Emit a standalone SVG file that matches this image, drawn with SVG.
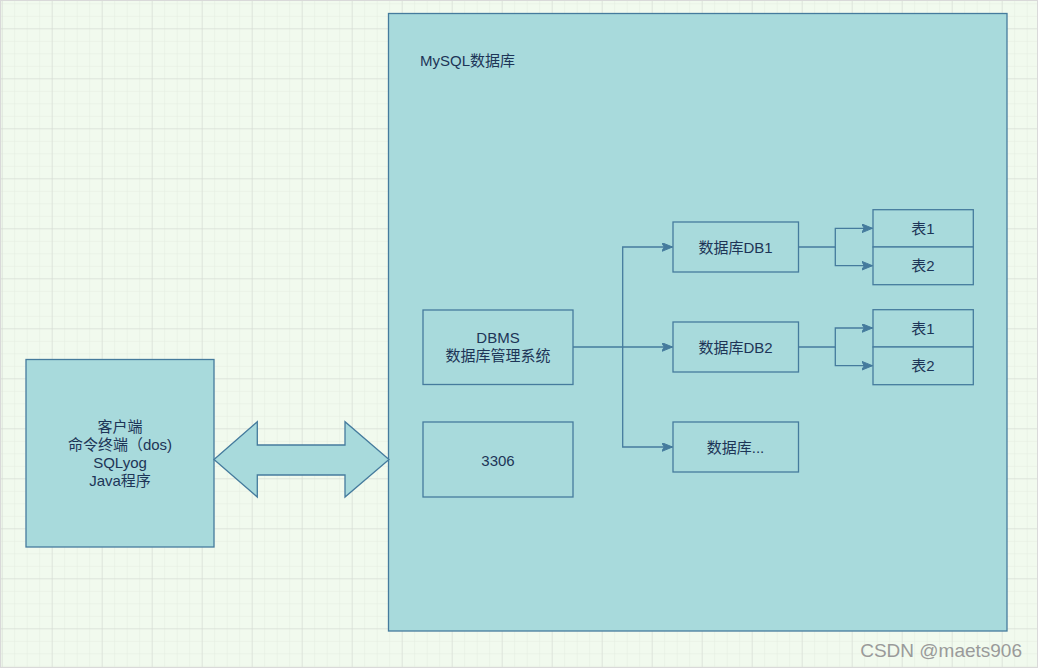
<svg xmlns="http://www.w3.org/2000/svg" width="1038" height="668" viewBox="0 0 1038 668">
<style>
.box{fill:#A8DADC;stroke:#457B9D;stroke-width:1.3}
.t{font-family:"Liberation Sans","Noto Sans CJK SC",sans-serif;font-size:15px;fill:#1D3557;text-anchor:middle}
.c{fill:none;stroke:#457B9D;stroke-width:1.3}
</style>
<defs>
<pattern id="minor" patternUnits="userSpaceOnUse" x="1.7" y="3.3" width="12.5" height="12.5">
<path d="M0,0 H12.5 M0,0 V12.5" fill="none" stroke="#e3ebe0" stroke-width="1"/>
</pattern>
<pattern id="major" patternUnits="userSpaceOnUse" x="1.7" y="28.3" width="50" height="50">
<path d="M0,0 H50 M0,0 V50" fill="none" stroke="#d3d8d1" stroke-width="1"/>
</pattern>
<marker id="arr" markerUnits="userSpaceOnUse" markerWidth="12" markerHeight="10" refX="11" refY="4.5" orient="auto" viewBox="0 0 12 10">
<path d="M0,0 L11,4.5 L0,9 L2.8,4.5 Z" fill="#457B9D" stroke="#457B9D" stroke-width="1"/>
</marker>
</defs>
<rect width="1038" height="668" fill="#F1FAEE"/>
<rect width="1038" height="668" fill="url(#minor)"/>
<rect width="1038" height="668" fill="url(#major)"/>
<rect x="0.5" y="0.5" width="1037" height="667" fill="none" stroke="#d9d9d9" stroke-width="1"/>

<g id="mysql">
<rect class="box" x="388.5" y="13.5" width="618.5" height="617.5"/>
<text class="t" x="420" y="65.5" style="text-anchor:start">MySQL数据库</text>
</g>

<g id="client">
<rect class="box" x="26" y="359.5" width="188" height="187.5"/>
<text class="t" x="120" y="431.5">客户端</text>
<text class="t" x="120" y="450">命令终端（dos)</text>
<text class="t" x="120" y="468">SQLyog</text>
<text class="t" x="120" y="485.5">Java程序</text>
</g>

<g id="double-arrow">
<path class="box" d="M214,459.5 L257.3,421.7 L257.3,445 L345,445 L345,421.7 L389,459.5 L345,497 L345,475 L257.3,475 L257.3,497 Z"/>
</g>

<g id="dbms">
<rect class="box" x="423" y="310" width="150" height="74.5"/>
<text class="t" x="498" y="342.5">DBMS</text>
<text class="t" x="498" y="360.5">数据库管理系统</text>
</g>

<g id="port">
<rect class="box" x="423" y="422" width="150" height="75"/>
<text class="t" x="498" y="465.5">3306</text>
</g>

<g id="db1">
<rect class="box" x="673" y="222" width="125.5" height="50"/>
<text class="t" x="735.5" y="252.5">数据库DB1</text>
</g>
<g id="db2">
<rect class="box" x="673" y="322" width="125.5" height="50"/>
<text class="t" x="735.5" y="352.5">数据库DB2</text>
</g>
<g id="db3">
<rect class="box" x="673" y="422" width="125.5" height="50"/>
<text class="t" x="735.5" y="452.5">数据库...</text>
</g>

<g id="db1-tables">
<rect class="box" x="873" y="209.7" width="100.3" height="37.3"/>
<text class="t" x="923" y="233.5">表1</text>
<rect class="box" x="873" y="247" width="100.3" height="37.7"/>
<text class="t" x="923" y="271">表2</text>
</g>
<g id="db2-tables">
<rect class="box" x="873" y="309.7" width="100.3" height="37.3"/>
<text class="t" x="923" y="333.5">表1</text>
<rect class="box" x="873" y="347" width="100.3" height="37.7"/>
<text class="t" x="923" y="371">表2</text>
</g>

<g id="connectors">
<path class="c" d="M573,347 H622.7"/>
<path class="c" d="M622.7,347 V247 H672.5" marker-end="url(#arr)"/>
<path class="c" d="M622.7,347 H672.5" marker-end="url(#arr)"/>
<path class="c" d="M622.7,347 V447 H672.5" marker-end="url(#arr)"/>
<path class="c" d="M798.5,247 H835.3 V228.3 H872.5" marker-end="url(#arr)"/>
<path class="c" d="M835.3,247 V265.7 H872.5" marker-end="url(#arr)"/>
<path class="c" d="M798.5,347 H835.3 V328 H872.5" marker-end="url(#arr)"/>
<path class="c" d="M835.3,347 V365.7 H872.5" marker-end="url(#arr)"/>
</g>

<text x="1022" y="657" style="font-family:'Liberation Sans','Noto Sans',sans-serif;font-size:19px;fill:#9a9a9a;text-anchor:end">CSDN @maets906</text>
</svg>
